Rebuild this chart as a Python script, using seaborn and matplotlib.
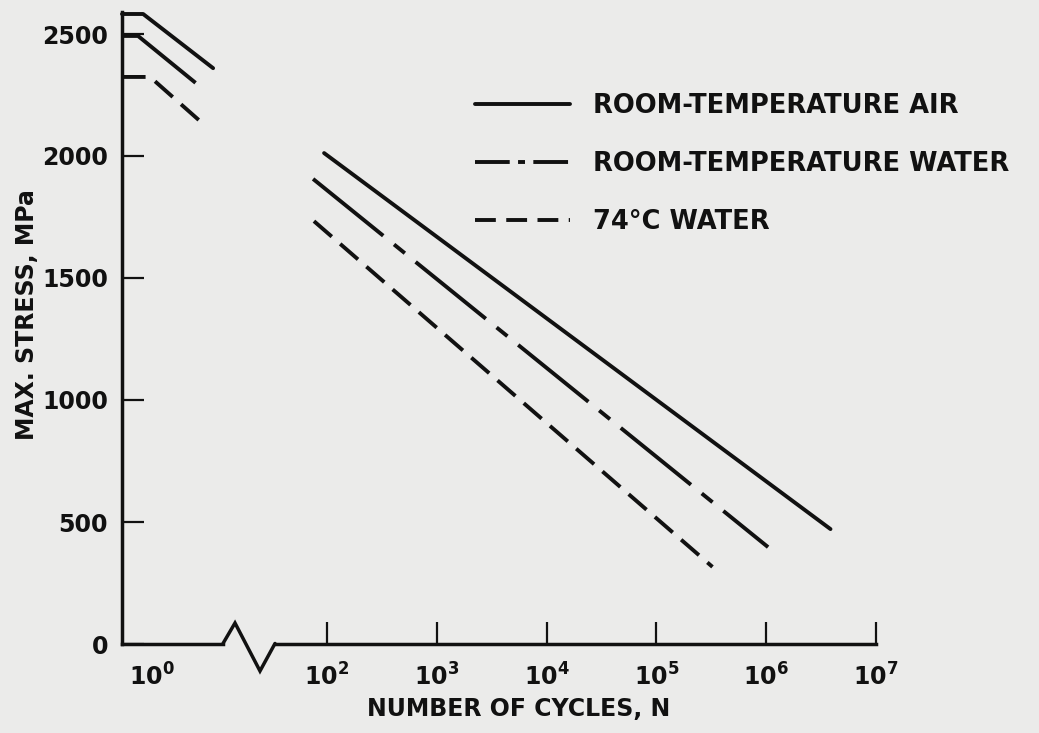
import numpy as np
import pandas as pd
import matplotlib
matplotlib.use("Agg")
import matplotlib.pyplot as plt
from matplotlib.lines import Line2D
from matplotlib.ticker import NullLocator
import seaborn as sns

# ---------------- data ----------------
conditions = ["ROOM-TEMPERATURE AIR", "ROOM-TEMPERATURE WATER", "74\u00b0C WATER"]

# short-life branch (left panel, around N = 10^0)
low_n_air = [0.533, 0.83, 3.59]
low_s_air = [2582, 2582, 2360]
low_n_rtw = [0.533, 0.746, 2.85]
low_s_rtw = [2492, 2492, 2278]
low_n_hot = [0.533, 0.96, 2.73]
low_s_hot = [2324, 2324, 2143]

# long-life branch (right panel, 10^2 .. 10^7)
high_n_air = [94, 3.85e6]
high_s_air = [2012, 471]
high_n_rtw = [74.6, 1.04e6]
high_s_rtw = [1906, 397]
high_n_hot = [76, 3.24e5]
high_s_hot = [1733, 316]

y_ticks = [0, 500, 1000, 1500, 2000, 2500]
y_tick_labels = ["0", "500", "1000", "1500", "2000", "2500"]
x_ticks_low = [1]
x_tick_labels_low = [r"$10^{0}$"]
x_ticks_high = [1e2, 1e3, 1e4, 1e5, 1e6, 1e7]
x_tick_labels_high = [r"$10^{2}$", r"$10^{3}$", r"$10^{4}$", r"$10^{5}$", r"$10^{6}$", r"$10^{7}$"]

# ---------------- style ----------------
INK = "#111111"
BG = "#ebebea"
LW = 2.8
FS = 17

sns.set_style("ticks")
plt.rcParams.update({
    "font.family": ["DejaVu Sans"],
    "font.weight": "bold",
    "mathtext.fontset": "custom",
    "mathtext.rm": "DejaVu Sans:bold",
    "mathtext.it": "DejaVu Sans:bold",
    "mathtext.bf": "DejaVu Sans:bold",
    "mathtext.default": "rm",
    "lines.scale_dashes": False,
    "axes.edgecolor": INK,
    "axes.linewidth": 2.5,
    "text.color": INK,
    "xtick.color": INK,
    "ytick.color": INK,
})

dash_map = {
    conditions[0]: "",
    conditions[1]: (65, 10, 10, 10),
    conditions[2]: (17, 8),
}
legend_dash = {
    conditions[0]: None,
    conditions[1]: (25, 6, 5, 6),
    conditions[2]: (15, 7.5),
}

df_low = pd.DataFrame({
    "N": low_n_air + low_n_rtw + low_n_hot,
    "stress": low_s_air + low_s_rtw + low_s_hot,
    "condition": [conditions[0]] * len(low_n_air) + [conditions[1]] * len(low_n_rtw)
                 + [conditions[2]] * len(low_n_hot),
})
df_high = pd.DataFrame({
    "N": high_n_air + high_n_rtw + high_n_hot,
    "stress": high_s_air + high_s_rtw + high_s_hot,
    "condition": [conditions[0]] * len(high_n_air) + [conditions[1]] * len(high_n_rtw)
                 + [conditions[2]] * len(high_n_hot),
})

W, H = 1039, 733
fig = plt.figure(figsize=(W / 100, H / 100), dpi=100, facecolor=BG)

y_top = 2590
ax_bottom_px, ax_top_px = 644, 644 - y_top * (488 / 2000)
axL = fig.add_axes([122 / W, 1 - ax_bottom_px / H, (223 - 122) / W, (ax_bottom_px - ax_top_px) / H])
axR = fig.add_axes([275 / W, 1 - ax_bottom_px / H, (876 - 275) / W, (ax_bottom_px - ax_top_px) / H])

for ax in (axL, axR):
    ax.set_facecolor("none")
    ax.set_xscale("log")
    ax.set_ylim(0, y_top)

axL.set_xlim(10 ** -0.273, 10 ** 0.645)
axR.set_xlim(10 ** 1.526, 1e7)

sns.lineplot(data=df_low, x="N", y="stress", style="condition", style_order=conditions,
             dashes=dash_map, color=INK, lw=LW, estimator=None, sort=False,
             legend=False, ax=axL, clip_on=False)
sns.lineplot(data=df_high, x="N", y="stress", style="condition", style_order=conditions,
             dashes=dash_map, color=INK, lw=LW, estimator=None, sort=False,
             legend=False, ax=axR)

# spines
sns.despine(ax=axL, top=True, right=True)
sns.despine(ax=axR, top=True, right=True, left=True)

# ticks
axL.set_yticks(y_ticks)
axL.set_yticklabels(y_tick_labels)
axL.set_xticks(x_ticks_low)
axL.set_xticklabels(x_tick_labels_low)
axL.xaxis.set_minor_locator(NullLocator())
axL.tick_params(axis="y", direction="in", length=16, width=1.6, labelsize=FS, pad=10)
axL.tick_params(axis="x", length=0, labelsize=FS, pad=14)

axR.set_xticks(x_ticks_high)
axR.set_xticklabels(x_tick_labels_high)
axR.xaxis.set_minor_locator(NullLocator())
axR.tick_params(axis="x", direction="in", length=16, width=1.6, labelsize=FS, pad=14)
axR.tick_params(axis="y", left=False, labelleft=False)
for ax in (axL, axR):
    ax.set_xlabel("")
    ax.set_ylabel("")

# axis break zig-zag
zx = np.array([223, 235, 260, 275]) / W
zy = 1 - np.array([643.5, 623, 671, 643.5]) / H
fig.add_artist(Line2D(zx, zy, color=INK, lw=2.5, solid_joinstyle="miter",
                      transform=fig.transFigure))

# axis titles
fig.text(519 / W, 1 - 709 / H, "NUMBER OF CYCLES, N", ha="center", va="center",
         fontsize=FS, fontweight="bold")
fig.text(27 / W, 1 - 315 / H, "MAX. STRESS, MPa", ha="center", va="center",
         rotation=90, fontsize=FS, fontweight="bold")

# legend
handles = []
for c in conditions:
    if legend_dash[c] is None:
        handles.append(Line2D([], [], color=INK, lw=LW, linestyle="-"))
    else:
        handles.append(Line2D([], [], color=INK, lw=LW, dashes=legend_dash[c]))
fig.legend(handles, conditions, loc="upper left", bbox_to_anchor=(475 / W, 1 - 93 / H),
           bbox_transform=fig.transFigure, frameon=False, borderpad=0, borderaxespad=0,
           handlelength=3.7, handletextpad=0.9, labelspacing=1.24,
           prop={"size": 18.5, "weight": "bold"})

fig.savefig("out.png", dpi=100, facecolor=BG)
